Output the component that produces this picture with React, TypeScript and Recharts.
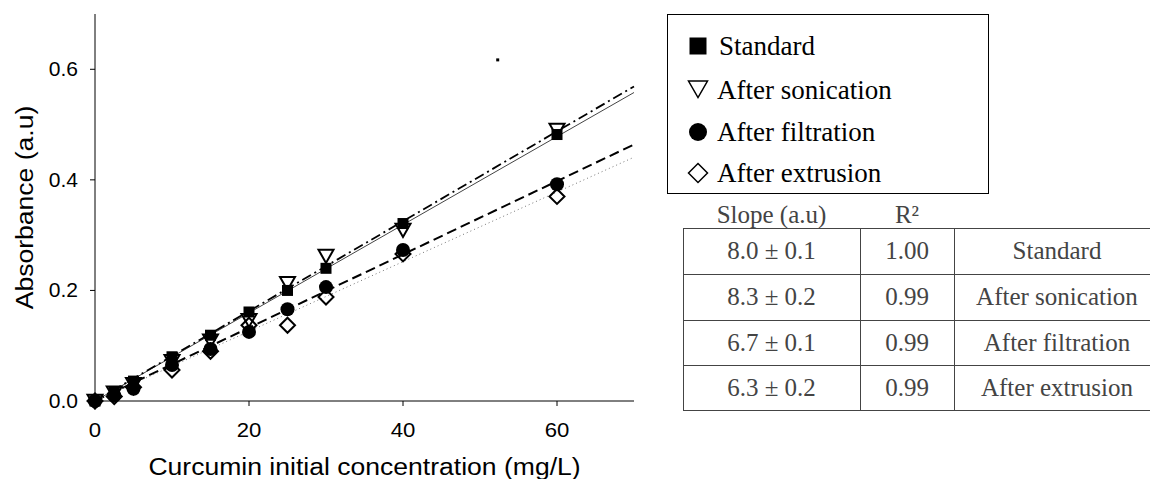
import React from "react";
import { ComposedChart, Line, Scatter, XAxis, YAxis } from "recharts";

// concentrations (mg/L) and absorbance readings
const concentrations = [0, 2.5, 5, 10, 15, 20, 25, 30, 40, 60];
const standardValues = [0, 0.017, 0.036, 0.08, 0.119, 0.161, 0.2, 0.24, 0.321, 0.482];
const sonicationValues = [0, 0.015, 0.03, 0.072, 0.109, 0.146, 0.213, 0.262, 0.309, 0.49];
const filtrationValues = [0, 0.01, 0.022, 0.065, 0.094, 0.125, 0.166, 0.206, 0.273, 0.392];
const extrusionValues = [0, 0.008, 0.025, 0.056, 0.09, 0.137, 0.137, 0.188, 0.266, 0.37];

// regression lines, read at both ends of the x range
const fitX = [0, 70];
const standardFit = [0, 0.558];
const sonicationFit = [0, 0.569];
const filtrationFit = [0, 0.464];
const extrusionFit = [0, 0.441];

const strayMark = [{ x: 52.3, y: 0.617 }];

const xTicks = [0, 20, 40, 60];
const yTicks = [0, 0.2, 0.4, 0.6];

const seriesNames = ["Standard", "After sonication", "After filtration", "After extrusion"];
const slopes = ["8.0 ± 0.1", "8.3 ± 0.2", "6.7 ± 0.1", "6.3 ± 0.2"];
const rSquared = ["1.00", "0.99", "0.99", "0.99"];

const toPoints = (values: number[]) => values.map((y, i) => ({ x: concentrations[i], y }));
const toFit = (values: number[]) => values.map((y, i) => ({ x: fitX[i], y }));

const SANS = "'Liberation Sans', Arial, sans-serif";
const SERIF = "'Liberation Serif', 'Times New Roman', serif";

const Square = ({ cx, cy, s = 11 }: any) => (
  <rect x={cx - s / 2} y={cy - s / 2} width={s} height={s} fill="#000" />
);
const TriangleDown = ({ cx, cy, w = 15, sw = 2 }: any) => (
  <path
    d={`M${cx - w / 2},${cy - w * 0.42} L${cx + w / 2},${cy - w * 0.42} L${cx},${cy + w * 0.45} Z`}
    fill="none"
    stroke="#000"
    strokeWidth={sw}
  />
);
const Dot = ({ cx, cy, r = 7 }: any) => <circle cx={cx} cy={cy} r={r} fill="#000" />;
const Diamond = ({ cx, cy, w = 15, sw = 2 }: any) => (
  <path
    d={`M${cx},${cy - w / 2} L${cx + w / 2},${cy} L${cx},${cy + w / 2} L${cx - w / 2},${cy} Z`}
    fill="none"
    stroke="#000"
    strokeWidth={sw}
  />
);

const XTick = ({ x, y, payload }: any) => (
  <text
    transform={`translate(${x},${y}) scale(1.08,1)`}
    textAnchor="middle"
    dy="0.35em"
    fontFamily={SANS}
    fontSize={20.5}
    fill="#000"
  >
    {payload.value}
  </text>
);

const YTick = ({ x, y, payload }: any) => (
  <text
    transform={`translate(${x},${y}) scale(1.08,1)`}
    textAnchor="end"
    dy="0.35em"
    fontFamily={SANS}
    fontSize={19.5}
    fill="#000"
  >
    {Number(payload.value).toFixed(1)}
  </text>
);

const LegendIcon = ({ index }: { index: number }) => (
  <svg width={22} height={22} style={{ display: "block" }}>
    {index === 0 && <Square cx={11} cy={11} s={17} />}
    {index === 1 && <TriangleDown cx={11} cy={10} w={19} sw={1.5} />}
    {index === 2 && <Dot cx={11} cy={11} r={9} />}
    {index === 3 && <Diamond cx={11} cy={11} w={19} sw={1.5} />}
  </svg>
);

const legendRows = [31, 75, 117, 158];
const tableRows = [228, 274, 320, 365, 410];
const tableCols = [683, 860, 954, 1160];

export default function App() {
  return (
    <div style={{ position: "absolute", left: 0, top: 0, width: 1150, height: 479, background: "#fff" }}>
      <ComposedChart width={650} height={479} margin={{ top: 14, right: 16, left: 0, bottom: 0 }}>
        <XAxis
          dataKey="x"
          type="number"
          domain={[0, 70]}
          ticks={xTicks}
          height={78}
          tickSize={5}
          tickMargin={24}
          stroke="#000"
          tick={<XTick />}
          label={{
            content: ({ viewBox }: any) => (
              <text
                transform={`translate(${viewBox.x + viewBox.width / 2},${viewBox.y + 66}) scale(1.13,1)`}
                textAnchor="middle"
                dy="0.35em"
                fontFamily={SANS}
                fontSize={23.5}
                fill="#000"
              >
                Curcumin initial concentration (mg/L)
              </text>
            ),
          }}
        />
        <XAxis xAxisId="top" orientation="top" type="number" domain={[0, 70]} height={0} tick={false} tickLine={false} stroke="#000" />
        <YAxis
          type="number"
          domain={[0, 0.7]}
          ticks={yTicks}
          width={95}
          tickSize={5}
          tickMargin={12}
          stroke="#000"
          tick={<YTick />}
          label={{
            content: ({ viewBox }: any) => (
              <text
                transform={`translate(25,${viewBox.y + viewBox.height / 2}) rotate(-90) scale(1.13,1)`}
                textAnchor="middle"
                dy="0.35em"
                fontFamily={SANS}
                fontSize={23.5}
                fill="#000"
              >
                Absorbance (a.u)
              </text>
            ),
          }}
        />
        <YAxis yAxisId="right" orientation="right" type="number" domain={[0, 0.7]} width={0} tick={false} tickLine={false} stroke="#000" />

        <Line data={toFit(standardFit)} dataKey="y" type="linear" stroke="#444" strokeWidth={1} dot={false} activeDot={false} isAnimationActive={false} />
        <Line data={toFit(sonicationFit)} dataKey="y" type="linear" stroke="#000" strokeWidth={1.8} strokeDasharray="10 4 2 4" dot={false} activeDot={false} isAnimationActive={false} />
        <Line data={toFit(filtrationFit)} dataKey="y" type="linear" stroke="#000" strokeWidth={2} strokeDasharray="10 5" dot={false} activeDot={false} isAnimationActive={false} />
        <Line data={toFit(extrusionFit)} dataKey="y" type="linear" stroke="#777" strokeWidth={1} strokeDasharray="1 3" dot={false} activeDot={false} isAnimationActive={false} />

        <Scatter data={toPoints(extrusionValues)} dataKey="y" shape={(p: any) => <Diamond cx={p.cx} cy={p.cy} />} isAnimationActive={false} />
        <Scatter data={toPoints(sonicationValues)} dataKey="y" shape={(p: any) => <TriangleDown cx={p.cx} cy={p.cy} />} isAnimationActive={false} />
        <Scatter data={toPoints(standardValues)} dataKey="y" shape={(p: any) => <Square cx={p.cx} cy={p.cy} />} isAnimationActive={false} />
        <Scatter data={toPoints(filtrationValues)} dataKey="y" shape={(p: any) => <Dot cx={p.cx} cy={p.cy} />} isAnimationActive={false} />
        <Scatter data={strayMark} dataKey="y" shape={(p: any) => <Square cx={p.cx} cy={p.cy} s={3} />} isAnimationActive={false} />
      </ComposedChart>

      {/* legend */}
      <div
        style={{
          position: "absolute",
          left: 667,
          top: 14,
          width: 322,
          height: 180,
          border: "1.5px solid #000",
          boxSizing: "border-box",
          fontFamily: SERIF,
          fontSize: 27,
          color: "#000",
        }}
      >
        {seriesNames.map((name, i) => (
          <div
            key={name}
            style={{ position: "absolute", left: 19, top: legendRows[i] - 16, height: 32, display: "flex", alignItems: "center", whiteSpace: "nowrap" }}
          >
            <LegendIcon index={i} />
            <span style={{ marginLeft: i === 0 ? 10 : 8 }}>{name}</span>
          </div>
        ))}
      </div>

      {/* slope table */}
      <div style={{ position: "absolute", left: 0, top: 0, fontFamily: SERIF, fontSize: 25, color: "#444" }}>
        <div style={{ position: "absolute", left: tableCols[0], width: tableCols[1] - tableCols[0], top: 200, textAlign: "center", lineHeight: "30px" }}>
          Slope (a.u)
        </div>
        <div style={{ position: "absolute", left: tableCols[1], width: tableCols[2] - tableCols[1], top: 200, textAlign: "center", lineHeight: "30px" }}>
          R²
        </div>
        {tableRows.map((y) => (
          <div key={"h" + y} style={{ position: "absolute", left: tableCols[0], top: y, width: tableCols[3] - tableCols[0], height: 0, borderTop: "1.5px solid #444" }} />
        ))}
        {tableCols.slice(0, 3).map((x) => (
          <div key={"v" + x} style={{ position: "absolute", left: x, top: tableRows[0], width: 0, height: tableRows[4] - tableRows[0], borderLeft: "1.5px solid #444" }} />
        ))}
        {seriesNames.map((name, i) => {
          const top = tableRows[i];
          const h = tableRows[i + 1] - tableRows[i];
          const cells = [slopes[i], rSquared[i], name];
          return cells.map((txt, c) => (
            <div
              key={name + c}
              style={{
                position: "absolute",
                left: tableCols[c],
                width: tableCols[c + 1] - tableCols[c],
                top,
                height: h,
                lineHeight: h + "px",
                textAlign: "center",
                whiteSpace: "nowrap",
              }}
            >
              {txt}
            </div>
          ));
        })}
      </div>
    </div>
  );
}
